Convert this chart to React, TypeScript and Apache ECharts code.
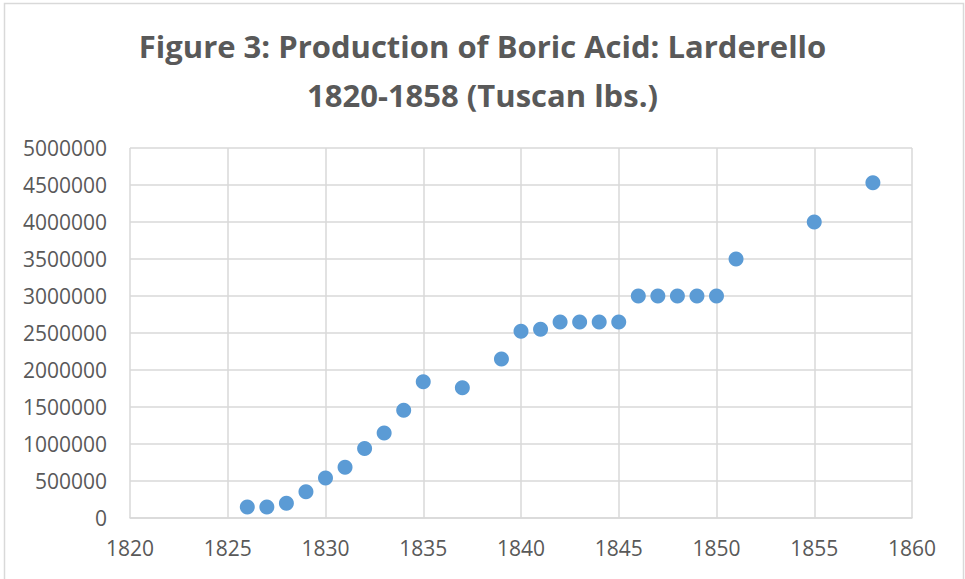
import React, { useEffect, useRef } from "react";
import * as echarts from "echarts";

const years = [1826, 1827, 1828, 1829, 1830, 1831, 1832, 1833, 1834, 1835, 1837, 1839, 1840, 1841, 1842, 1843, 1844, 1845, 1846, 1847, 1848, 1849, 1850, 1851, 1855, 1858];
const production = [150000, 150000, 200000, 355000, 540000, 685000, 940000, 1150000, 1455000, 1840000, 1760000, 2150000, 2525000, 2550000, 2650000, 2650000, 2650000, 2650000, 3000000, 3000000, 3000000, 3000000, 3000000, 3500000, 4000000, 4530000];
const titleText = "Figure 3: Production of Boric Acid: Larderello\n1820-1858 (Tuscan lbs.)";

export default function App() {
  const ref = useRef<HTMLDivElement>(null);
  useEffect(() => {
    if (!ref.current) return;
    const chart = echarts.init(ref.current, null, { renderer: "svg" });
    const font = "'Open Sans', Lato, sans-serif";
    chart.setOption({
      animation: false,
      backgroundColor: "#ffffff",
      title: {
        text: titleText,
        left: "center",
        top: 16,
        textStyle: {
          fontFamily: font,
          fontWeight: "bold",
          fontSize: 31,
          color: "#595959",
          lineHeight: 49,
        },
      },
      graphic: [
        {
          type: "rect",
          shape: { x: 4.5, y: 3.5, width: 959, height: 600 },
          style: { fill: "none", stroke: "#D9D9D9", lineWidth: 1.5 },
          silent: true,
        },
      ],
      grid: { left: 130, right: 53, top: 148, bottom: 61, containLabel: false },
      xAxis: {
        type: "value",
        min: 1820,
        max: 1860,
        interval: 5,
        axisLine: { show: true, lineStyle: { color: "#D9D9D9", width: 1.5 } },
        axisTick: { show: false },
        splitLine: { show: true, lineStyle: { color: "#D9D9D9", width: 1.5 } },
        axisLabel: { color: "#595959", fontFamily: font, fontSize: 21, margin: 19, formatter: (v: number) => String(v) },
      },
      yAxis: {
        type: "value",
        min: 0,
        max: 5000000,
        interval: 500000,
        axisLine: { show: false },
        axisTick: { show: false },
        splitLine: { show: true, lineStyle: { color: "#D9D9D9", width: 1.5 } },
        axisLabel: { color: "#595959", fontFamily: font, fontSize: 21, margin: 23, formatter: (v: number) => String(v) },
      },
      series: [
        {
          type: "scatter",
          data: years.map((y, i) => [y, production[i]]),
          symbol: "circle",
          symbolSize: 15,
          itemStyle: { color: "#5B9BD5", opacity: 1 },
        },
      ],
    });
    return () => chart.dispose();
  }, []);
  return <div ref={ref} style={{ position: "absolute", left: 0, top: 0, width: 965, height: 579 }} />;
}
